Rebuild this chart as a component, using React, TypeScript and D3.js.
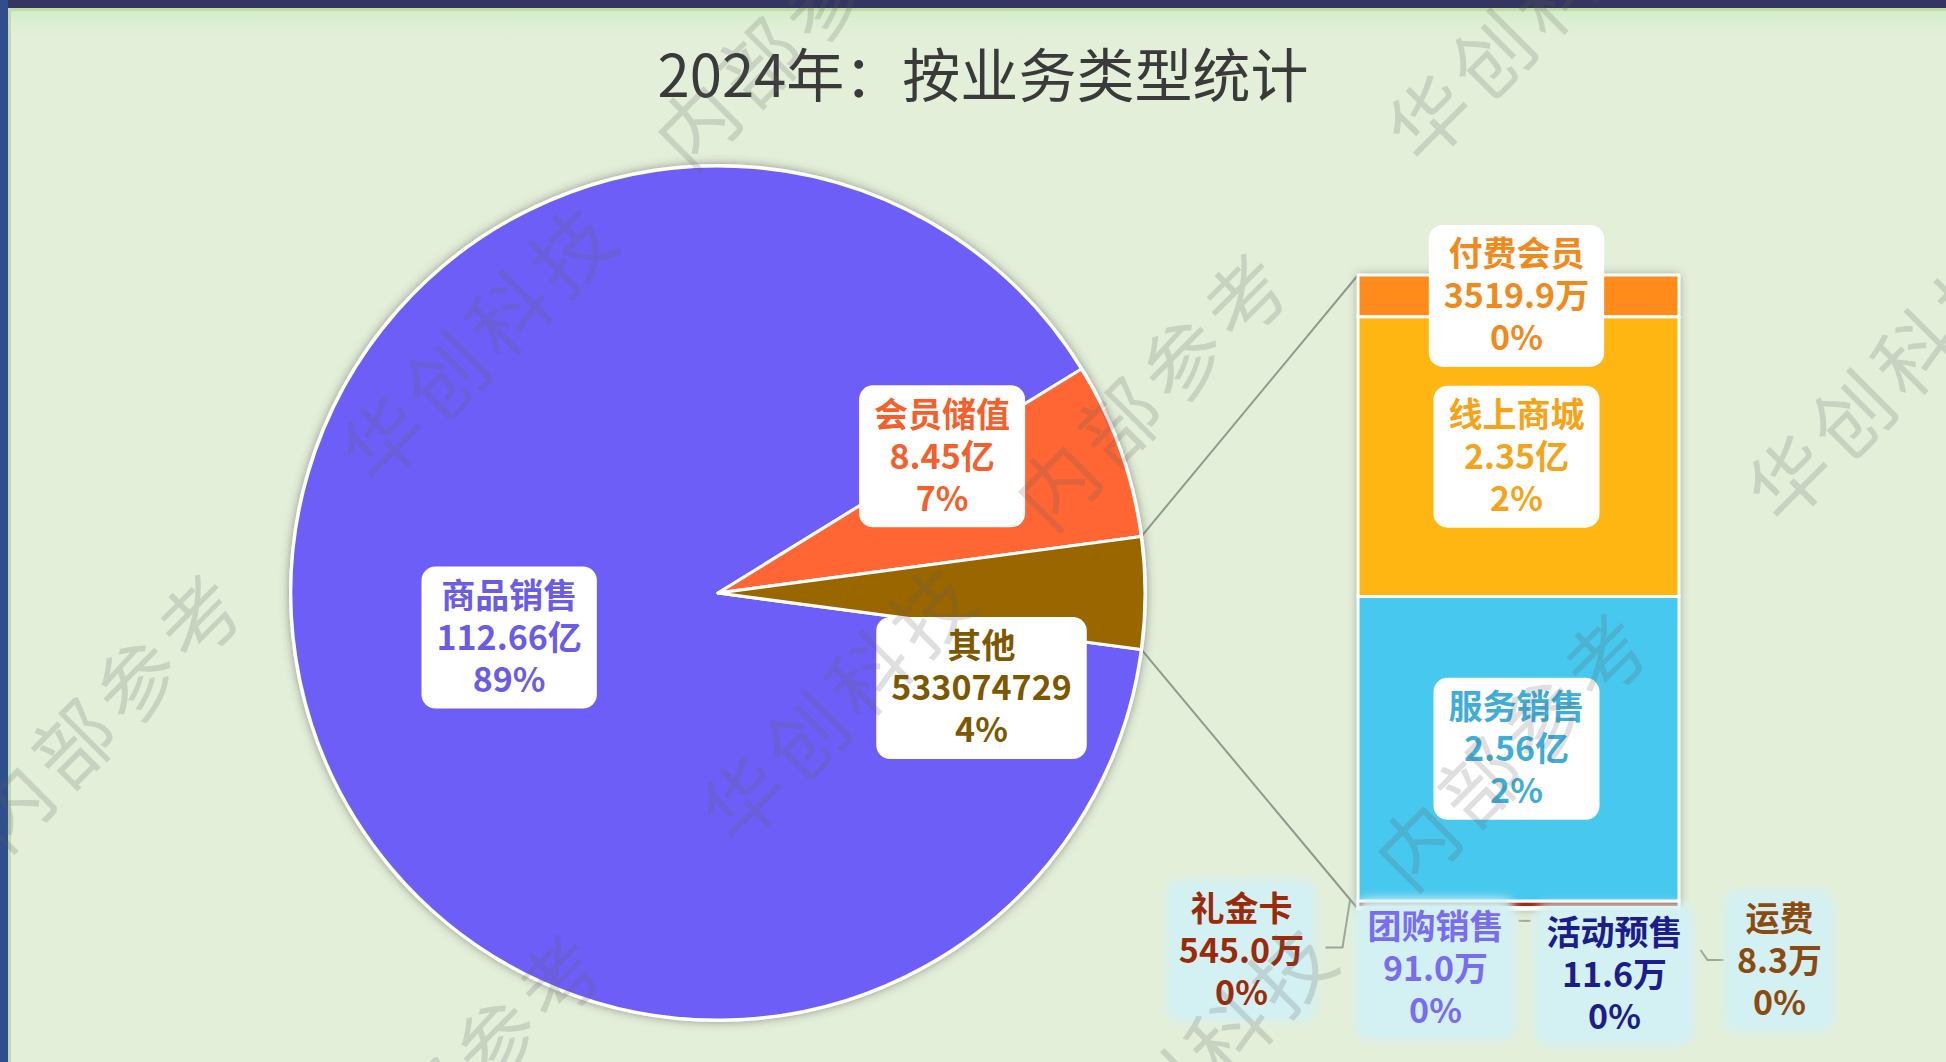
import React from "react";
import * as d3 from "d3";

// pie: main categories
const pieNames = ["商品销售", "会员储值", "其他"];
const pieValues = [11266000000, 845000000, 533074729];
const pieValueText = ["112.66亿", "8.45亿", "533074729"];
const pieColors = ["#6e5ef8", "#ff6633", "#996600"];
const pieTextColors = ["#6b5ce8", "#f4602c", "#7d5800"];

// bar: breakdown of 其他
const barNames = ["付费会员", "线上商城", "服务销售", "礼金卡", "团购销售", "活动预售", "运费"];
const barValues = [35199000, 235000000, 256000000, 5450000, 910000, 116000, 83000];
const barValueText = ["3519.9万", "2.35亿", "2.56亿", "545.0万", "91.0万", "11.6万", "8.3万"];
const barColors = ["#ff8c1a", "#ffb612", "#47c8ee", "#9e2b0e", "#7b6cf0", "#1c1c8c", "#8b4a10"];
const barTextColors = ["#f08a1c", "#f5a419", "#3eaed8", "#9a2a0a", "#7a6cf0", "#1c1c8c", "#8b4a10"];

const title = "2024年：按业务类型统计";
const watermark = "华创科技　内部参考";

const W = 1946;
const H = 1062;
const FONT = '"Noto Sans CJK SC", "Noto Sans", sans-serif';

// label nudges from the default anchor (layout only)
const pieLabelNudge = [[0, 0], [23, -65], [50, 95]];
const smallLabelNudge: Record<number, [number, number]> = {
  3: [-277, 46],
  4: [-83, 61],
  5: [96, 66],
  6: [261, 52],
};
const watermarkCenters = [
  [636, 190], [996, 550], [1682, -131], [2042, 229], [1356, 910], [-50, 871], [310, 1231],
];

const ctx = typeof document !== "undefined" ? document.createElement("canvas").getContext("2d") : null;
function textW(s: string, size: number) {
  if (!ctx) return s.length * size;
  ctx.font = `700 ${size}px ${FONT}`;
  return ctx.measureText(s).width;
}

function Label({ x, y, lines, color, bg, pad, soft }: any) {
  const fs = 34;
  const lh = 42;
  const h = 142;
  const w = Math.max(...lines.map((l: string) => textW(l, fs))) + pad * 2;
  return (
    <g>
      <rect
        x={x - w / 2}
        y={y - h / 2}
        width={w}
        height={h}
        rx={14}
        fill={bg}
        filter={soft ? "url(#soft)" : undefined}
      />
      {lines.map((l: string, i: number) => (
        <text
          key={i}
          x={x}
          y={y + (i - 1) * lh}
          dy="0.36em"
          textAnchor="middle"
          fill={color}
          fontSize={fs}
          fontWeight={700}
          fontFamily={FONT}
        >
          {l}
        </text>
      ))}
    </g>
  );
}

export default function App() {
  const cx = 718;
  const cy = 593;
  const r = 427;

  const pieTotal = d3.sum(pieValues);
  const pct = (v: number) => `${Math.round((v / pieTotal) * 100)}%`;

  // put the 其他 slice centred on 3 o'clock
  const half = (pieValues[2] / pieTotal) * Math.PI;
  const start = Math.PI / 2 + half;
  const arcs = d3.pie<number>().sort(null).startAngle(start).endAngle(start + 2 * Math.PI)(pieValues);
  const arc = d3.arc<d3.PieArcDatum<number>>().innerRadius(0).outerRadius(r);
  const other = arcs[2];
  const rim = (a: number) => [cx + r * Math.sin(a), cy - r * Math.cos(a)];
  const pTop = rim(other.startAngle);
  const pBot = rim(other.endAngle);

  // bar of pie
  const barX0 = 1358;
  const barX1 = 1679;
  const barTotal = d3.sum(barValues);
  const y = d3.scaleLinear().domain([0, barTotal]).range([275, 909]);
  const cum = [0, ...Array.from(d3.cumsum(barValues))];
  const barMid = (barX0 + barX1) / 2;

  return (
    <svg
      width={W}
      height={H}
      viewBox={`0 0 ${W} ${H}`}
      style={{ position: "absolute", left: 0, top: 0, display: "block" }}
    >
      <defs>
        <filter id="shadow" x="-10%" y="-10%" width="120%" height="120%">
          <feDropShadow dx="0" dy="0" stdDeviation="5" floodColor="#4a4a4a" floodOpacity="0.55" />
        </filter>
        <filter id="soft" x="-20%" y="-20%" width="140%" height="140%">
          <feGaussianBlur stdDeviation="5" />
        </filter>
        <linearGradient id="topGlow" x1="0" y1="0" x2="0" y2="1">
          <stop offset="0" stopColor="#cfeec2" />
          <stop offset="1" stopColor="#e3efd9" stopOpacity="0" />
        </linearGradient>
      </defs>

      {/* page background and frame */}
      <rect width={W} height={H} fill="#e3efd9" />
      <rect x={0} y={8} width={W} height={34} fill="url(#topGlow)" />
      <rect x={0} y={0} width={W} height={8} fill="#343661" />
      <rect x={0} y={0} width={8} height={H} fill="#2f4e8b" />
      <rect x={8} y={8} width={W} height={3} fill="#bfdcaa" />
      <rect x={8} y={8} width={3} height={H} fill="#bfdcaa" />

      {/* title */}
      <text
        x={983}
        y={97}
        textAnchor="middle"
        fontSize={58}
        fontFamily={FONT}
        fill="#3a3a3a"
        textLength={651}
        lengthAdjust="spacingAndGlyphs"
      >
        {title}
      </text>

      {/* series lines */}
      <line x1={pTop[0]} y1={pTop[1]} x2={barX0} y2={y(0)} stroke="#8d9b8d" strokeWidth={2} />
      <line x1={pBot[0]} y1={pBot[1]} x2={barX0} y2={y(barTotal)} stroke="#8d9b8d" strokeWidth={2} />

      {/* pie */}
      <g filter="url(#shadow)">
        <circle cx={cx} cy={cy} r={r + 2} fill="#ffffff" />
      </g>
      <g transform={`translate(${cx},${cy})`}>
        {arcs.map((a, i) => (
          <path key={i} d={arc(a) || ""} fill={pieColors[i]} stroke="#ffffff" strokeWidth={3} strokeLinejoin="round" />
        ))}
      </g>

      {/* bar */}
      <g filter="url(#shadow)">
        <rect x={barX0} y={y(0)} width={barX1 - barX0} height={y(barTotal) - y(0)} fill="#ffffff" />
      </g>
      {barValues.map((v, i) => (
        <rect
          key={i}
          x={barX0}
          y={y(cum[i])}
          width={barX1 - barX0}
          height={y(cum[i + 1]) - y(cum[i])}
          fill={barColors[i]}
          stroke="#ffffff"
          strokeWidth={3}
        />
      ))}

      {/* leader lines for the small segments */}
      {(() => {
        const segMid = (i: number) => (y(cum[i]) + y(cum[i + 1])) / 2;
        const lx = (i: number) => barMid + smallLabelNudge[i][0];
        const ly = (i: number) => segMid(i) + smallLabelNudge[i][1];
        const l3 = [[lx(3) + 84, ly(3) - 3], [lx(3) + 101, ly(3) - 3], [barX0 - 8, segMid(3) - 4]];
        const l5 = [[lx(5) - 96, ly(5) - 54], [lx(5) - 84, ly(5) - 54]];
        const l6 = [[lx(6) - 56, ly(6) - 1], [lx(6) - 72, ly(6) - 1], [lx(6) - 79, ly(6) - 11]];
        const line = d3.line();
        return [l3, l5, l6].map((pts, k) => (
          <path key={k} d={line(pts as [number, number][]) || ""} fill="none" stroke="#9aa79a" strokeWidth={2} />
        ));
      })()}

      {/* pie labels */}
      {arcs.map((a, i) => {
        const [x, yy] = arc.centroid(a);
        return (
          <Label
            key={i}
            x={cx + x + pieLabelNudge[i][0]}
            y={cy + yy + pieLabelNudge[i][1]}
            lines={[pieNames[i], pieValueText[i], pct(pieValues[i])]}
            color={pieTextColors[i]}
            bg="#ffffff"
            pad={15}
          />
        );
      })}

      {/* bar labels */}
      {barValues.map((v, i) => {
        const mid = (y(cum[i]) + y(cum[i + 1])) / 2;
        const small = i >= 3;
        const nx = small ? smallLabelNudge[i][0] : -2;
        const ny = small ? smallLabelNudge[i][1] : 0;
        return (
          <Label
            key={i}
            x={barMid + nx}
            y={mid + ny}
            lines={[barNames[i], barValueText[i], pct(v)]}
            color={barTextColors[i]}
            bg={small ? "#d3f1f3" : "#ffffff"}
            pad={small ? 12 : 15}
            soft={small}
          />
        );
      })}

      {/* watermark */}
      {watermarkCenters.map(([x, yy], i) => (
        <text
          key={i}
          transform={`translate(${x},${yy}) rotate(-45)`}
          textAnchor="middle"
          dy="0.35em"
          fontSize={80}
          fontFamily={FONT}
          fill="rgba(95,95,95,0.2)"
          textLength={790}
          lengthAdjust="spacing"
        >
          {watermark}
        </text>
      ))}
    </svg>
  );
}
